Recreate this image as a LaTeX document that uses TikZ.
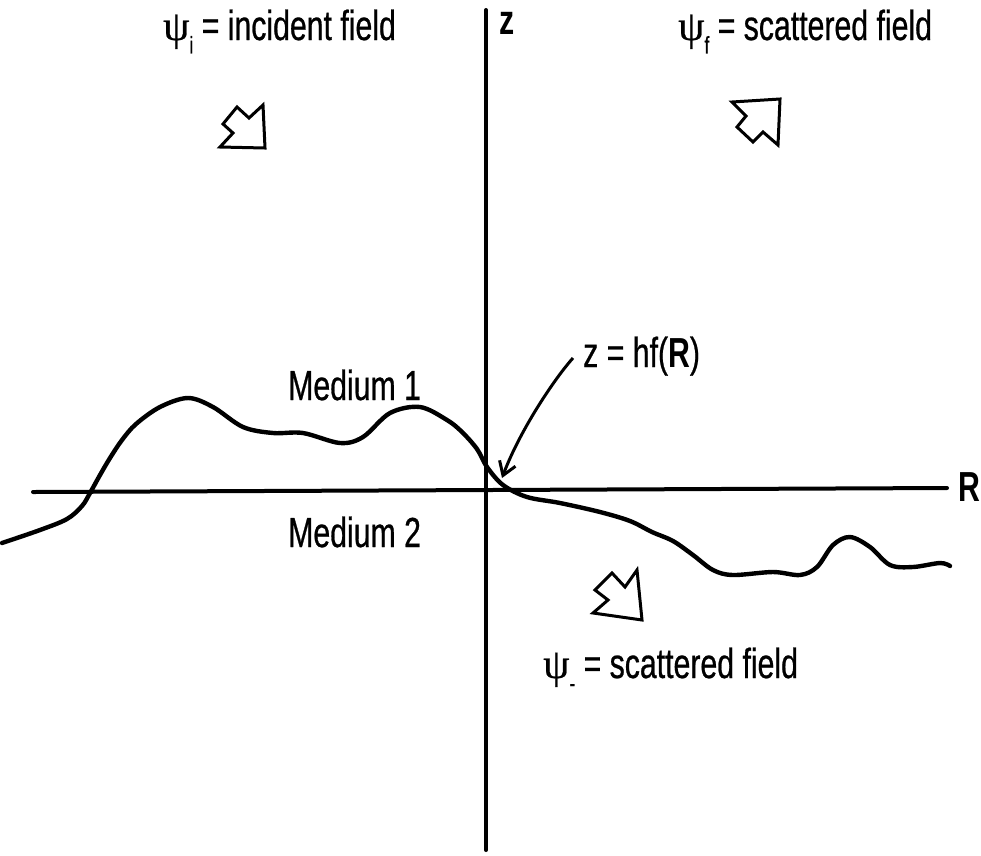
\documentclass[tikz,border=0pt]{standalone}
\usepackage{fontspec}
\setmainfont{Liberation Sans}[FakeStretch=0.72, UprightFeatures={FakeBold=0.6}]
\newfontfamily\psifont{Liberation Serif}[FakeBold=0.6]
\usetikzlibrary{arrows.meta}
\newcommand\psisub[1]{\raisebox{-0.32em}{\fontsize{24}{24}\selectfont #1}}
\newcommand\psisym{{\psifont ψ}}
\tikzset{
  lbl/.style={inner sep=0pt, anchor=base west, font=\fontsize{42}{46}\selectfont},
  axis/.style={line width=4pt, line cap=round},
  surf/.style={line width=4.4pt, line cap=round, line join=round},
  blockarrow/.style={line width=3pt, line join=miter, fill=white},
  pointer/.style={line width=3pt, -{Straight Barb[length=13pt,width=17pt,line width=3pt]}},
}
\begin{document}
\begin{tikzpicture}[x=1pt,y=-1pt]
\useasboundingbox[fill=white] (0,0) rectangle (981,855);

% axes
\coordinate (ztop) at (486,10);
\coordinate (zbot) at (486,850);
\coordinate (rleft) at (33,492);
\coordinate (rright) at (947,488);
\draw[axis] (ztop) -- (zbot);
\draw[axis] (rleft) -- (rright);

% surface z = hf(R)
\draw[surf] plot[smooth, tension=0.55] coordinates {
 (2,543) (40,530) (67,519) (82,506) (90,493) (100,475) (110,458) (122,440)
 (136,424) (160,407) (188,398) (213,407) (243,427) (273,433) (303,433)
 (340,443) (363,437) (390,413) (420,407) (447,420) (462,432) (477,449)
 (487,467) (503,485) (527,497) (560,503) (600,512) (630,521) (652,532)
 (673,541) (693,555) (713,570) (733,575) (773,572) (800,575) (817,567)
 (833,545) (850,537) (870,547) (890,565) (913,567) (940,563) (950,566)};

% block arrows
\draw[blockarrow] (263,105) -- (265,148) -- (220,147) -- (233,133) -- (223,124) -- (237,107) -- (249,118) -- cycle;
\draw[blockarrow] (732,102) -- (780,99) -- (778,145) -- (763,132) -- (753,142) -- (737,127) -- (746,116) -- cycle;
\draw[blockarrow] (637,570) -- (642,620) -- (593,613) -- (608,600) -- (595,590) -- (612,573) -- (625,587) -- cycle;

% labels
\node[lbl] (psii) at (163,40) {\psisym\psisub{i} = incident field};
\node[lbl] (psif) at (678,40) {\psisym\psisub{f} = scattered field};
\node[lbl] (psim) at (543,678) {\psisym\psisub{-} = scattered field};
\node[lbl] (med1) at (288,400) {Medium 1};
\node[lbl] (med2) at (288,547) {Medium 2};
\node[lbl] (zlbl) at (583,367) {z = hf(\textbf{R})};
\node[lbl] (zax) at (499,34) {\textbf{z}};
\node[lbl] (rax) at (958,501) {\textbf{R}};

% pointer
\coordinate (pstart) at (573,358);
\coordinate (ptip) at (502,478);
\draw[pointer] (pstart) .. controls (555,378) and (520,430) .. (ptip);
\end{tikzpicture}
\end{document}
